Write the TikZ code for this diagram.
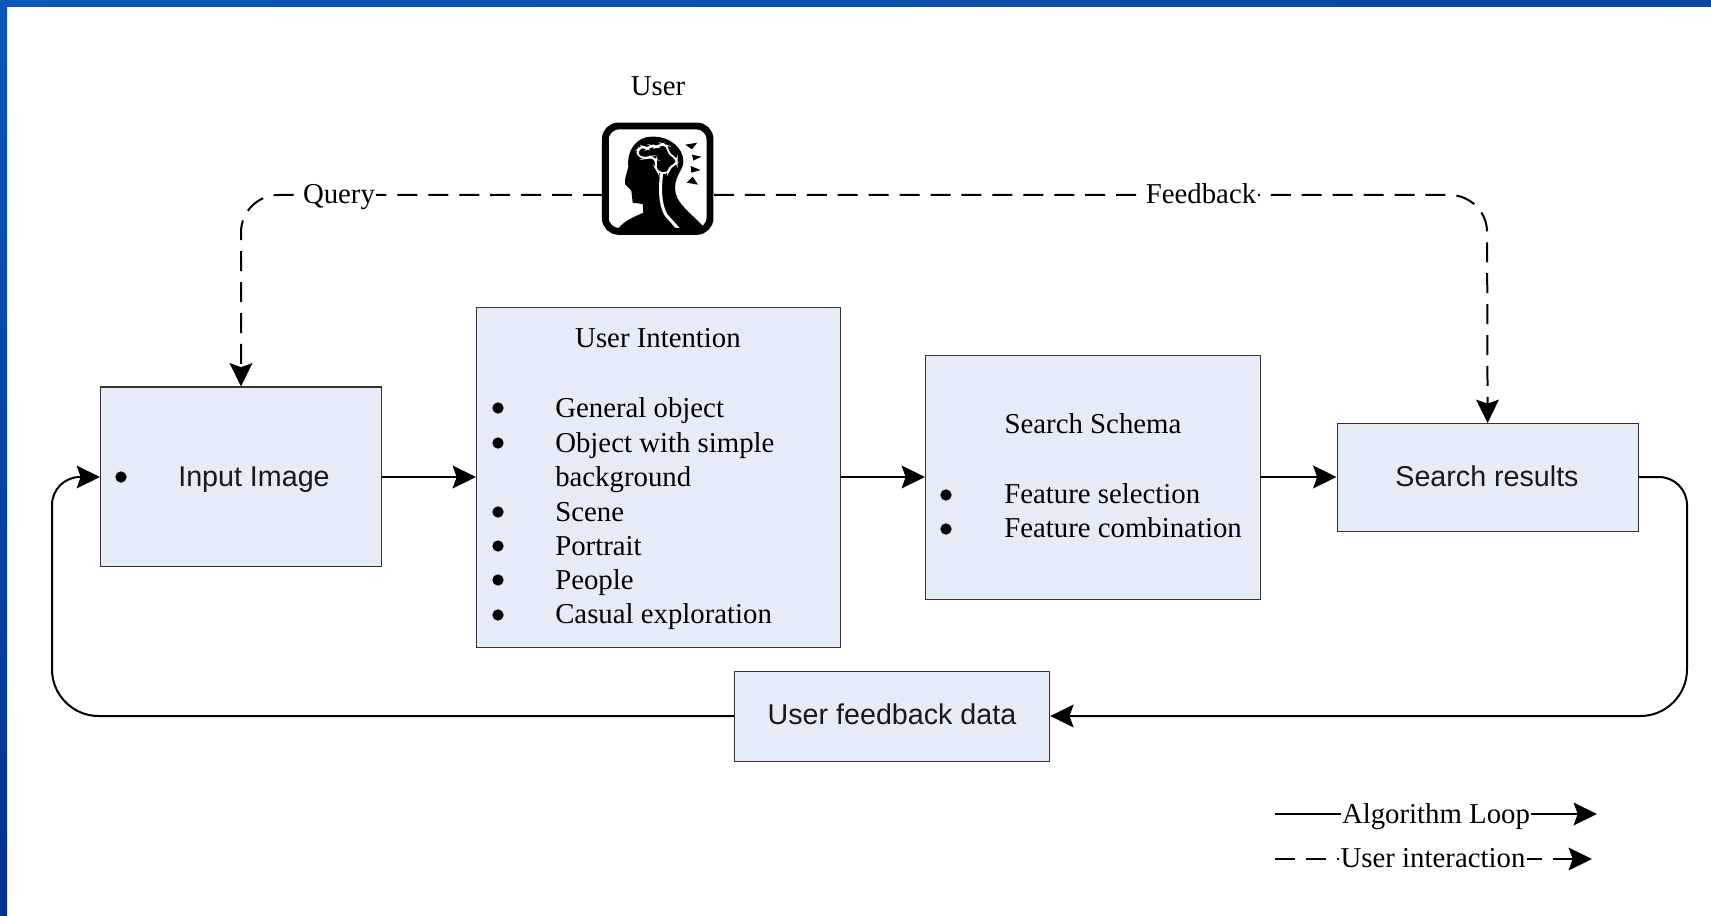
\documentclass[tikz,border=0pt]{standalone}
\usepackage{fontspec}
\setmainfont{Liberation Serif}
\newfontfamily\sansf{Liberation Sans}
\usetikzlibrary{arrows.meta}
\definecolor{boxfill}{HTML}{E6ECF7}
\definecolor{frameA}{HTML}{0A58B8}
\definecolor{frameB}{HTML}{07338A}
\definecolor{frameC}{HTML}{0848A0}
\tikzset{
 x=0.75pt,y=-0.75pt,
 pbox/.style={draw=black!80,line width=0.9pt,fill=boxfill,inner sep=0pt,anchor=north west},
 serif/.style={font=\fontsize{21.6}{26}\selectfont,text=black,inner sep=0pt},
 sans/.style={font=\sansf\fontsize{21.5}{26}\selectfont,text=black!90,inner sep=0pt},
 flow/.style={draw=black,line width=1.5pt,-{Stealth[length=17.5pt,width=17pt,inset=3pt]}},
 inter/.style={flow,dash pattern=on 15pt off 8.2pt},
 bul/.style={circle,fill=black,inner sep=0pt,minimum size=8.5pt},
 lab/.style={serif,fill=white,inner xsep=1pt,inner ysep=2pt,anchor=base}
}
\begin{document}
\begin{tikzpicture}
\useasboundingbox (0,0) rectangle (1711,916);
\fill[white] (0,0) rectangle (1711,916);
\shade[left color=frameA,right color=frameC] (0,0) rectangle (1711,7);
\shade[top color=frameA,bottom color=frameB] (0,0) rectangle (7,916);
% boxes
\path (100,386.5) node[pbox,minimum width=281*0.75pt,minimum height=179*0.75pt] (input) {};
\path (476,307) node[pbox,minimum width=363.5*0.75pt,minimum height=340*0.75pt] (intent) {};
\path (925,355) node[pbox,minimum width=334.5*0.75pt,minimum height=243.5*0.75pt] (schema) {};
\path (1336.5,423) node[pbox,minimum width=301*0.75pt,minimum height=108*0.75pt] (results) {};
\path (734,671) node[pbox,minimum width=315*0.75pt,minimum height=90*0.75pt] (fb) {};
% texts
\node[sans,anchor=base] (t1) at (254,486) {Input Image};
\node[bul] (d0) at (121,477) {};
\node[serif,anchor=base] (t2) at (658,348) {User Intention};
\foreach \n/\yy/\t in {a/417/General object,b/452/Object with simple,c/486/background,d/521/Scene,e/555/Portrait,f/589/People,g/623/Casual exploration}{
  \node[serif,anchor=base west] (l\n) at (555,\yy) {\t};
}
\foreach \n/\yy in {a/408,b/443,d/512,e/546,f/580,g/615}{
  \node[bul] (p\n) at (498,\yy) {};
}
\node[serif,anchor=base] (t3) at (1093,434) {Search Schema};
\node[serif,anchor=base west] (s1) at (1004,503) {Feature selection};
\node[serif,anchor=base west] (s2) at (1004,537) {Feature combination};
\node[bul] (q1) at (946,495) {};
\node[bul] (q2) at (946,529) {};
\node[sans,anchor=base] (t4) at (1487,486) {Search results};
\node[sans,anchor=base] (t5) at (892,724) {User feedback data};
% user
\node[serif,anchor=base] (user) at (658,96) {User};
\begin{scope}[shift={(560,60)},x=0.25pt,y=-0.25pt]
\fill[black] (175,505) .. controls (195,480) and (225,470) .. (250,458) -- (248,432) -- (218,428)
 -- (214,392) -- (195,372) -- (195,358) -- (205,320) .. controls (200,270) and (230,230) .. (275,230)
 .. controls (325,228) and (370,260) .. (370,305) .. controls (370,330) and (345,345) .. (345,385)
 .. controls (345,430) and (395,460) .. (435,505) -- cycle;
\draw[white,line width=1.3pt,rounded corners=3pt] (235,268) -- (248,258) -- (262,268) -- (275,256) -- (290,262) -- (305,252) -- (322,258)
 -- (326,282) -- (350,295) -- (350,312) -- (330,320) -- (325,340) -- (295,338) -- (285,320) -- (290,300) -- (270,290) -- (255,296) -- (230,285) -- cycle;
\draw[white,line width=2.3pt] (305,338) .. controls (300,380) and (298,430) .. (318,465) -- (360,512);
\fill[black] (376,254) -- (412,248) -- (396,268) -- cycle;
\fill[black] (396,284) -- (424,290) -- (400,302) -- cycle;
\fill[black] (392,318) -- (422,330) -- (394,338) -- cycle;
\fill[black] (380,368) -- (398,350) -- (414,374) -- cycle;
\draw[line width=5.2pt,rounded corners=10pt] (136,198) rectangle (450,514);
\end{scope}
\coordinate (uL) at (603,195);
\coordinate (uR) at (714,195);
% connectors
\draw[flow,line width=2pt] (input.east |- 0,477) -- (intent.west |- 0,477);
\draw[flow] (intent.east |- 0,477) -- (schema.west |- 0,477);
\draw[flow,line width=2pt] (schema.east |- 0,477) -- (results.west |- 0,477);
\coordinate (rr) at (1687,477);
\coordinate (ll) at (52,716);
\draw[flow] (results.east |- 0,477) [rounded corners=21pt] -- (rr) [rounded corners=35pt] -- (1687,716) [sharp corners] -- (fb.east |- 0,716);
\draw[flow] (fb.west |- 0,716) [rounded corners=35pt] -- (ll) [rounded corners=21pt] -- (52,477) [sharp corners] -- (input.west |- 0,477);
\draw[inter] (uL) [rounded corners=28pt] -- (241,195) [sharp corners] -- (input.north -| 241,0);
\draw[inter] (uR) [rounded corners=28pt] -- (1487,195) [sharp corners] -- (results.north);
\node[lab] (q) at (339,204) {Query};
\node[lab] (f) at (1201,204) {Feedback};
% legend
\coordinate (a1) at (1275,814);
\coordinate (a2) at (1597,814);
\coordinate (b1) at (1275,859);
\coordinate (b2) at (1592,859);
\draw[flow] (a1) -- (a2);
\draw[inter] (b1) -- (b2);
\node[lab] (la) at (1436,823) {Algorithm Loop};
\node[lab] (lb) at (1433,867) {User interaction};
\end{tikzpicture}
\end{document}
